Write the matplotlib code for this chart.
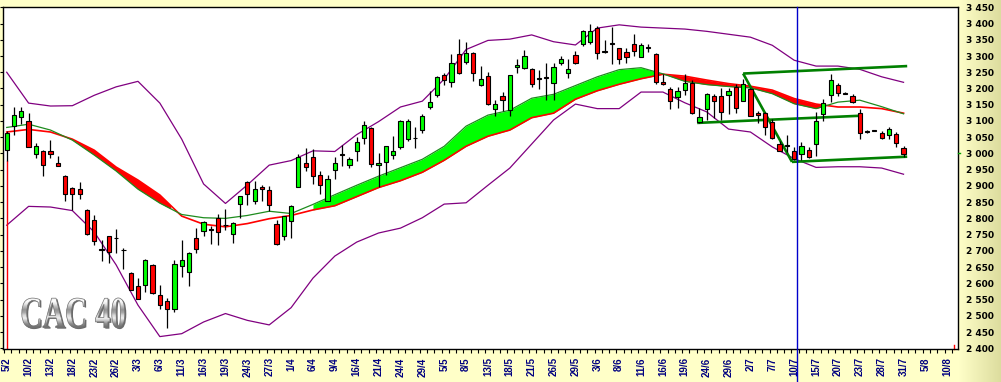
import numpy as np
import matplotlib
matplotlib.use('Agg')
import matplotlib.pyplot as plt
from matplotlib.textpath import TextPath
from matplotlib.font_manager import FontProperties
from matplotlib.patches import PathPatch
from matplotlib.transforms import Affine2D
from matplotlib.ticker import FuncFormatter

# ---------------- data ----------------
date_labels = ['5/2', '10/2', '13/2', '18/2', '23/2', '26/2', '3/3', '6/3', '11/3', '16/3',
               '19/3', '24/3', '27/3', '1/4', '6/4', '9/4', '16/4', '21/4', '24/4', '29/4',
               '5/5', '8/5', '13/5', '18/5', '21/5', '26/5', '29/5', '3/6', '8/6', '11/6',
               '16/6', '19/6', '24/6', '29/6', '2/7', '7/7', '10/7', '15/7', '20/7', '23/7',
               '28/7', '31/7', '5/8', '10/8']

opens = [3011, 3085, 3113, 3101, 2999, 3009, 3006, 2972, 2929, 2893,
         2892, 2827, 2794, 2706, 2745, 2741, 2704, 2632, 2593, 2594,
         2658, 2563, 2545, 2520, 2654, 2635, 2741, 2761, 2766, 2802,
         2781, 2751, 2845, 2913, 2855, 2898, 2888, 2784, 2746, 2792,
         2898, 2970, 2990, 2934, 2855, 2950, 2998, 2965, 3007, 3048,
         3078, 2965, 2973, 2996, 3021, 3045, 3048, 3072, 3142, 3181,
         3241, 3220, 3306, 3281, 3309, 3211, 3239, 3136, 3176, 3134,
         3265, 3262, 3261, 3231, 3235, 3217, 3280, 3249, 3303, 3338,
         3344, 3386, 3315, 3339, 3324, 3311, 3336, 3298, 3328, 3306,
         3221, 3198, 3175, 3195, 3217, 3096, 3137, 3178, 3178, 3180,
         3205, 3162, 3198, 3126, 3126, 3096, 3029, 3025, 3009, 2999,
         3012, 3029, 3121, 3180, 3211, 3186, 3178, 3125, 3069, 3071,
         3063, 3058, 3060, 3017]
highs = [3070, 3144, 3144, 3123, 3033, 3012, 3042, 2993, 2935, 2896,
         2911, 2830, 2809, 2732, 2747, 2766, 2710, 2636, 2615, 2675,
         2661, 2594, 2554, 2671, 2732, 2697, 2770, 2792, 2776, 2812,
         2830, 2788, 2870, 2916, 2915, 2904, 2900, 2796, 2808, 2840,
         2999, 3017, 3014, 2947, 2935, 2988, 3026, 2990, 3052, 3101,
         3080, 3002, 3024, 3055, 3104, 3106, 3080, 3121, 3193, 3239,
         3249, 3306, 3352, 3344, 3311, 3270, 3251, 3165, 3190, 3243,
         3290, 3318, 3263, 3257, 3277, 3280, 3300, 3290, 3316, 3379,
         3400, 3393, 3349, 3389, 3326, 3324, 3367, 3341, 3338, 3308,
         3244, 3206, 3205, 3244, 3226, 3140, 3186, 3183, 3200, 3200,
         3214, 3229, 3203, 3132, 3128, 3106, 3037, 3058, 3021, 3034,
         3019, 3129, 3168, 3244, 3217, 3188, 3183, 3137, 3072, 3072,
         3068, 3080, 3067, 3022]
lows = [2978, 3058, 3091, 3021, 2985, 2930, 2985, 2960, 2853, 2827,
        2859, 2748, 2719, 2670, 2663, 2693, 2643, 2580, 2551, 2574,
        2567, 2521, 2464, 2511, 2618, 2592, 2693, 2745, 2722, 2719,
        2765, 2725, 2802, 2842, 2843, 2855, 2822, 2718, 2732, 2741,
        2896, 2945, 2907, 2876, 2853, 2921, 2962, 2954, 2976, 3029,
        2958, 2896, 2934, 2982, 3014, 3037, 3017, 3062, 3137, 3175,
        3211, 3205, 3244, 3275, 3224, 3208, 3150, 3116, 3132, 3116,
        3247, 3260, 3206, 3199, 3165, 3165, 3273, 3231, 3275, 3331,
        3338, 3290, 3308, 3275, 3275, 3280, 3300, 3296, 3311, 3215,
        3211, 3137, 3139, 3181, 3121, 3094, 3104, 3108, 3104, 3121,
        3123, 3160, 3114, 3093, 3058, 3045, 3006, 3004, 2980, 2981,
        2986, 2993, 3101, 3157, 3176, 3182, 3154, 3045, 3064, 3068,
        3045, 3045, 3019, 2990]
closes = [3063, 3119, 3132, 3021, 3023, 2965, 2999, 2962, 2876, 2874,
          2874, 2751, 2729, 2704, 2697, 2739, 2702, 2581, 2553, 2673,
          2569, 2534, 2520, 2661, 2671, 2694, 2707, 2790, 2764, 2759,
          2779, 2786, 2868, 2876, 2892, 2891, 2842, 2720, 2806, 2837,
          2990, 2958, 2932, 2904, 2920, 2970, 2996, 2983, 3034, 3088,
          2966, 2971, 3022, 3006, 3101, 3101, 3046, 3115, 3157, 3234,
          3226, 3280, 3249, 3309, 3247, 3229, 3152, 3152, 3166, 3241,
          3273, 3301, 3215, 3229, 3233, 3267, 3290, 3260, 3277, 3377,
          3377, 3308, 3313, 3337, 3290, 3297, 3314, 3333, 3326, 3219,
          3214, 3162, 3193, 3217, 3123, 3111, 3183, 3162, 3129, 3193,
          3139, 3214, 3116, 3118, 3082, 3047, 3009, 3023, 2983, 3024,
          2990, 3101, 3155, 3226, 3185, 3184, 3157, 3063, 3067, 3070,
          3048, 3075, 3032, 2997]

# indicator lines read every 3 sessions (index 0, 3, ..., 123)
line_idx = list(range(0, 124, 3))
upper_band = [3250, 3155, 3146, 3147, 3179, 3205, 3222, 3155, 3044, 2906,
              2846, 2903, 2964, 2978, 3008, 3006, 3058, 3098, 3143, 3161,
              3229, 3320, 3348, 3352, 3365, 3344, 3334, 3386, 3396, 3389,
              3386, 3383, 3376, 3367, 3358, 3333, 3287, 3269, 3269, 3259,
              3236, 3219]
lower_band = [2779, 2837, 2835, 2824, 2758, 2657, 2533, 2436, 2445, 2481,
              2507, 2486, 2472, 2525, 2616, 2684, 2727, 2755, 2770, 2802,
              2844, 2848, 2902, 2955, 3029, 3103, 3152, 3138, 3138, 3189,
              3189, 3156, 3128, 3075, 3066, 3020, 2984, 2957, 2959, 2959,
              2955, 2936]
fast_ma = [3080, 3090, 3072, 3041, 2995, 2946, 2890, 2847, 2812, 2802,
           2800, 2809, 2822, 2815, 2843, 2873, 2902, 2930, 2956, 2982,
           3022, 3084, 3118, 3133, 3170, 3182, 3209, 3236, 3258, 3264,
           3245, 3222, 3212, 3206, 3202, 3184, 3153, 3138, 3158, 3164,
           3144, 3122]
slow_ma = [3066, 3074, 3066, 3044, 3010, 2958, 2918, 2872, 2807, 2782,
           2774, 2784, 2799, 2809, 2826, 2839, 2867, 2895, 2916, 2942,
           2979, 3022, 3053, 3072, 3110, 3124, 3167, 3193, 3213, 3230,
           3244, 3238, 3226, 3215, 3207, 3195, 3169, 3152, 3143, 3143,
           3138, 3124]
# trending segments where the ribbon is filled (start index, end index, colour)
ribbon_fills = [(8, 22.5, '#FF0000'), (42, 89, '#00FF00'), (89, 112, '#FF0000')]

# trend channel (index, value) end points
chan_top = ([101.0, 123.5], [3246, 3269])
chan_mid = ([94.7, 117.0], [3094, 3116])
chan_low = ([107.7, 123.5], [2974, 2990])
chan_diag = ([101.0, 107.7], [3246, 2974])
today_idx = 108.4

# ---------------- figure ----------------
W, H = 1001, 382
fig = plt.figure(figsize=(W / 100, H / 100), dpi=100)

bg = fig.add_axes([0, 0, 1, 1], zorder=-10)
base = np.array([255, 255, 200]) / 255
dark = np.array([220, 220, 158]) / 255
xs = np.arange(W)
t = np.clip((xs - 958) / (W - 958), 0, 1)
row = base[None, :] * (1 - t[:, None]) + dark[None, :] * t[:, None]
bg.imshow(np.repeat(row[None, :, :], 2, axis=0), aspect='auto', extent=[0, 1, 0, 1])
bg.axis('off')

ax = fig.add_axes([3.3 / W, 33 / H, (957.5 - 3.3) / W, (349 - 7.3) / H])
ax.set_facecolor('white')

x = np.arange(len(opens))
O = np.array(opens, float); Hh = np.array(highs, float)
L = np.array(lows, float); C = np.array(closes, float)
li = np.array(line_idx, float)
fm = np.array(fast_ma, float); sm = np.array(slow_ma, float)

# MA ribbon (filled only on trending segments)
for a, b, col in ribbon_fills:
    xf = np.linspace(a, b, 200)
    ax.fill_between(xf, np.interp(xf, li, fm), np.interp(xf, li, sm), color=col, lw=0, zorder=1)
ax.plot(li, sm, color='#FF0000', lw=1.2, zorder=2)
ax.plot(li, fm, color='#1E8C1E', lw=0.9, zorder=2)

# Bollinger bands
ax.plot(li, upper_band, color='#800080', lw=0.9, zorder=2)
ax.plot(li, lower_band, color='#800080', lw=0.9, zorder=2)

# channel
for cx, cy in (chan_top, chan_mid, chan_low, chan_diag):
    ax.plot(cx, cy, color='#008000', lw=1.9, zorder=3, solid_capstyle='butt')

# candles
up = C >= O
cols = np.where(up, '#00FF00', '#FF0000')
ax.vlines(x, L, Hh, color='black', lw=0.9, zorder=4)
bot = np.minimum(O, C)
hgt = np.maximum(np.abs(C - O), 1.5)
ax.bar(x, hgt, bottom=bot, width=0.58, color=cols, edgecolor='black', linewidth=0.8, zorder=5)

# misc markers
ax.plot([0, 0], [2390, L[0]], color='red', lw=1, zorder=2)
ax.plot([129.95, 129.95], [2397, 2409], color='red', lw=1, zorder=2, clip_on=False)
ax.axvline(today_idx, ymin=-33 / 341.7, ymax=1, color='#0000CC', lw=1, zorder=6, clip_on=False)

# CAC 40 logo
xlo, xhi, ylo, yhi = 2.06, 16.2, 2462, 2555
fp = FontProperties(family='Liberation Serif', weight='bold')
tp = TextPath((0, 0), 'CAC 40', size=1, prop=fp)
ext = tp.get_extents()
tr = Affine2D().translate(-ext.x0, -ext.y0).scale((xhi - xlo) / ext.width,
                                                  (yhi - ylo) / ext.height).translate(xlo, ylo)
path = tr.transform_path(tp)
shadow = PathPatch(Affine2D().translate(0.2, -3).transform_path(path), facecolor='#6a6a6a',
                   edgecolor='none', transform=ax.transData, zorder=3)
ax.add_patch(shadow)
patch = PathPatch(path, facecolor='none', edgecolor='#707070', lw=0.5, transform=ax.transData, zorder=3.2)
ax.add_patch(patch)
gvals = np.array([0.95, 0.99, 0.9, 0.72, 0.58, 0.66, 0.85, 0.93, 0.75, 0.55, 0.45])
gimg = np.repeat(gvals[:, None], 4, axis=1)
im = ax.imshow(gimg, extent=[xlo, xhi, ylo, yhi], aspect='auto', cmap='gray', vmin=0, vmax=1,
               zorder=3.1, interpolation='bilinear')
im.set_clip_path(patch)

ax.set_xlim(-0.47, 130.4)
ax.set_ylim(2397.8, 3449.3)

# axes styling
for s in ax.spines.values():
    s.set_color('black'); s.set_linewidth(1)
ax.set_yticks(np.arange(2400, 3451, 50))
ax.yaxis.set_major_formatter(FuncFormatter(lambda v, p: f"{int(round(v)):,}".replace(',', ' ')))
ax.tick_params(axis='y', left=True, right=False, labelleft=False, labelright=True,
               length=2.2, width=0.8, pad=3.9, labelsize=6.5)
for lab in ax.get_yticklabels():
    lab.set_fontweight('bold')

ax.set_xticks(np.arange(0, 130, 3))
ax.set_xticklabels(date_labels, rotation=90, fontsize=7, fontweight='bold',
                   color='#000080', family='Liberation Sans')
ax.set_xticks(np.arange(0, 131) - 0.37, minor=True)
ax.tick_params(axis='x', which='major', length=0, pad=6)
ax.tick_params(axis='x', which='minor', length=3, width=0.8, color='black')

# small green tick on right axis at 3000
ax.plot([130.4, 130.75], [3000, 3000], color='#00A000', lw=1, clip_on=False, zorder=6)

fig.savefig('out.png', dpi=100)
